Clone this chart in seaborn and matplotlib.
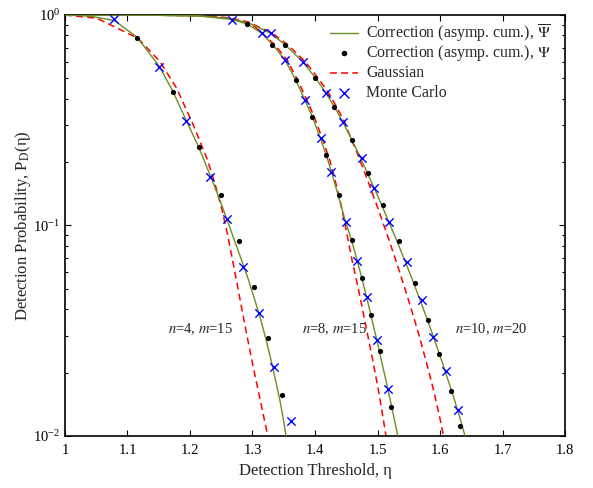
import matplotlib
matplotlib.use("Agg")
import matplotlib.pyplot as plt
import seaborn as sns
import pandas as pd
from matplotlib.lines import Line2D
from matplotlib.ticker import FixedLocator, FixedFormatter, LogLocator, NullFormatter

# ---------------- data ----------------
# n=4, m=15
g1_corr_x = [1.0, 1.024, 1.0453, 1.0789, 1.1157, 1.1504, 1.1728, 1.1936, 1.2139, 1.2224, 1.2352,
             1.2477, 1.2595, 1.2709, 1.2824, 1.2936, 1.3037, 1.3133, 1.3219, 1.3296, 1.3368,
             1.3437, 1.3496, 1.3536]
g1_corr_p = [1.0, 0.9945, 0.981, 0.9417, 0.782, 0.5725, 0.433, 0.317, 0.236, 0.2047, 0.1645,
             0.1322, 0.1062, 0.0853, 0.0686, 0.0551, 0.04427, 0.03557, 0.02858, 0.02296, 0.01845,
             0.01483, 0.01191, 0.01]
g1_psi_x = [1.1157, 1.1728, 1.2139, 1.2493, 1.2781, 1.3032, 1.3256, 1.3474]
g1_psi_p = [0.777, 0.4295, 0.236, 0.1396, 0.0847, 0.0510, 0.0291, 0.01566]
g1_gauss_x = [1.0, 1.0512, 1.1168, 1.152, 1.1787, 1.2053, 1.228, 1.2405, 1.2512, 1.2603, 1.268,
              1.2757, 1.2832, 1.2909, 1.2989, 1.3072, 1.3157, 1.3245]
g1_gauss_p = [1.0, 0.9645, 0.775, 0.600, 0.4485, 0.300, 0.2047, 0.1557, 0.1185, 0.0901, 0.0686,
              0.0522, 0.0397, 0.0302, 0.02296, 0.01747, 0.01329, 0.01]
g1_mc_x = [1.0784, 1.1504, 1.1936, 1.2322, 1.2594, 1.2845, 1.3106, 1.3346, 1.3608]
g1_mc_p = [0.957, 0.568, 0.3147, 0.1706, 0.107, 0.0635, 0.0385, 0.0212, 0.01178]

# n=8, m=15
g2_corr_x = [1.0, 1.136, 1.216, 1.2667, 1.2917, 1.3147, 1.3328, 1.352, 1.3691, 1.3835, 1.3957,
             1.4096, 1.4205, 1.4301, 1.4392, 1.448, 1.4584, 1.4672, 1.4757, 1.4837, 1.4912,
             1.4989, 1.5061, 1.5133, 1.5203, 1.5272, 1.5325]
g2_corr_p = [1.0, 0.998, 0.989, 0.952, 0.906, 0.8186, 0.7204, 0.6114, 0.491, 0.396, 0.3288,
             0.2548, 0.2047, 0.1645, 0.1322, 0.1062, 0.0853, 0.0686, 0.0551, 0.04427, 0.03557,
             0.02858, 0.02296, 0.01845, 0.01483, 0.01191, 0.01]
g2_psi_x = [1.2917, 1.3317, 1.3691, 1.3957, 1.4176, 1.4379, 1.4592, 1.4747, 1.4891, 1.5035, 1.5221]
g2_psi_p = [0.906, 0.7204, 0.491, 0.3288, 0.2169, 0.140, 0.0853, 0.0563, 0.03744, 0.02542, 0.01378]
g2_gauss_x = [1.0, 1.136, 1.216, 1.264, 1.296, 1.336, 1.3552, 1.3723, 1.3869, 1.3989, 1.4125,
              1.4235, 1.432, 1.44, 1.4488, 1.4592, 1.4709, 1.4816, 1.4923, 1.5024, 1.5136]
g2_gauss_p = [1.0, 0.9989, 0.9924, 0.9677, 0.921, 0.7204, 0.6114, 0.491, 0.3947, 0.3276, 0.2548,
              0.2047, 0.1645, 0.1322, 0.0987, 0.0686, 0.0476, 0.03305, 0.02296, 0.01595, 0.01]
g2_mc_x = [1.2667, 1.3147, 1.352, 1.3835, 1.4091, 1.4256, 1.4501, 1.4677, 1.4837, 1.4987, 1.5168]
g2_mc_p = [0.947, 0.8186, 0.6114, 0.396, 0.2596, 0.1796, 0.1042, 0.0678, 0.0456, 0.02858, 0.01677]

# n=10, m=20
g3_corr_x = [1.0, 1.136, 1.216, 1.264, 1.296, 1.3291, 1.3525, 1.3808, 1.4008, 1.4171, 1.4309,
             1.4443, 1.4592, 1.4744, 1.4888, 1.5032, 1.5168, 1.5304, 1.5432, 1.556, 1.568, 1.58,
             1.5912, 1.6024, 1.6128, 1.6232, 1.6328, 1.64]
g3_corr_p = [1.0, 0.998, 0.989, 0.9624, 0.911, 0.8186, 0.7204, 0.598, 0.502, 0.4276, 0.3667,
             0.3112, 0.2548, 0.2047, 0.1645, 0.1322, 0.1062, 0.0853, 0.0686, 0.0551, 0.04427,
             0.03557, 0.02858, 0.02296, 0.01845, 0.01483, 0.01191, 0.01]
g3_psi_x = [1.3525, 1.4005, 1.4309, 1.4597, 1.484, 1.5093, 1.5339, 1.5595, 1.581, 1.5987, 1.6174, 1.6323]
g3_psi_p = [0.7204, 0.5003, 0.3667, 0.2556, 0.177, 0.1251, 0.0841, 0.0535, 0.03557, 0.0246, 0.01636, 0.01119]
g3_gauss_x = [1.0, 1.136, 1.216, 1.264, 1.296, 1.332, 1.3568, 1.3848, 1.4048, 1.4213, 1.4344,
              1.4472, 1.4584, 1.4656, 1.484, 1.5016, 1.5184, 1.5344, 1.5496, 1.564, 1.5773,
              1.5896, 1.6005, 1.6056]
g3_gauss_p = [1.0, 0.9989, 0.9924, 0.9677, 0.918, 0.8186, 0.7204, 0.598, 0.502, 0.4276, 0.3667,
              0.3112, 0.2548, 0.2284, 0.1645, 0.1185, 0.0853, 0.0614, 0.04427, 0.03189, 0.02296,
              0.01654, 0.01191, 0.01]
g3_mc_x = [1.3291, 1.3813, 1.4171, 1.4443, 1.4752, 1.4944, 1.5184, 1.5472, 1.5707, 1.5893, 1.6094, 1.6286]
g3_mc_p = [0.8186, 0.596, 0.4276, 0.3112, 0.210, 0.1502, 0.1042, 0.0669, 0.04427, 0.02944, 0.02043, 0.01333]

case_labels = ["$n$=4, $m$=15", "$n$=8, $m$=15", "$n$=10, $m$=20"]
case_label_x = [1.1648, 1.379, 1.624]
case_label_y = [0.0322, 0.0322, 0.0322]

x_ticks = [1.0, 1.1, 1.2, 1.3, 1.4, 1.5, 1.6, 1.7, 1.8]
x_tick_labels = ["1", "1.1", "1.2", "1.3", "1.4", "1.5", "1.6", "1.7", "1.8"]

legend_labels = [r"Correction (asymp. cum.), $\overline{\Psi}$",
                 r"Correction (asymp. cum.), $\Psi$",
                 "Gaussian", "Monte Carlo"]

# ---------------- style ----------------
sns.set_style("ticks")
plt.rcParams['font.family'] = ['Liberation Serif', 'DejaVu Serif']
plt.rcParams['mathtext.fontset'] = 'stix'
plt.rcParams['xtick.direction'] = 'in'
plt.rcParams['ytick.direction'] = 'in'

GREEN = "#6b8e23"
RED = "#ff0000"
BLUE = "#0000ff"
DASH = (0, (4.5, 2.8))

fig = plt.figure(figsize=(5.93, 4.88), dpi=100)
ax = fig.add_axes([0.1096, 0.1066, 0.8432, 0.8627])

groups = [
    (g1_corr_x, g1_corr_p, g1_psi_x, g1_psi_p, g1_gauss_x, g1_gauss_p, g1_mc_x, g1_mc_p),
    (g2_corr_x, g2_corr_p, g2_psi_x, g2_psi_p, g2_gauss_x, g2_gauss_p, g2_mc_x, g2_mc_p),
    (g3_corr_x, g3_corr_p, g3_psi_x, g3_psi_p, g3_gauss_x, g3_gauss_p, g3_mc_x, g3_mc_p),
]

for cx, cp, px, pp, gx, gp, mx, mp in groups:
    sns.lineplot(x=gx, y=gp, ax=ax, color=RED, lw=1.1, sort=False, estimator=None,
                 dashes=False, linestyle=DASH, zorder=2)
    sns.lineplot(x=cx, y=cp, ax=ax, color=GREEN, lw=1.0, sort=False, estimator=None, zorder=3)
    sns.scatterplot(x=px, y=pp, ax=ax, color="black", s=14, marker="o", linewidth=0, zorder=4)
    sns.scatterplot(x=mx, y=mp, ax=ax, color=BLUE, s=36, marker="x", linewidth=1.0, zorder=5)

ax.set_yscale("log")
ax.set_xlim(1.0, 1.8)
ax.set_ylim(0.01, 1.0)

ax.xaxis.set_major_locator(FixedLocator(x_ticks))
ax.xaxis.set_major_formatter(FixedFormatter(x_tick_labels))
ax.yaxis.set_major_locator(LogLocator(base=10, numticks=5))
ax.yaxis.set_minor_locator(LogLocator(base=10, subs=range(2, 10), numticks=20))
ax.yaxis.set_minor_formatter(NullFormatter())

ax.tick_params(which="both", direction="in", top=True, right=True, labelsize=10.5,
               colors="black", width=0.8)
ax.tick_params(which="major", length=4.5)
ax.tick_params(which="minor", length=2.5)
ax.tick_params(axis="x", pad=6)
for sp in ax.spines.values():
    sp.set_visible(True)
    sp.set_linewidth(1.2)
    sp.set_color("black")

ax.set_xlabel("Detection Threshold, η", fontsize=12, labelpad=4)
ax.set_ylabel(r"Detection Probability, P$_{\mathrm{D}}$(η)", fontsize=12, labelpad=0)

for lbl, lx, ly in zip(case_labels, case_label_x, case_label_y):
    ax.text(lx, ly, lbl, fontsize=10.5, ha="left", va="center")

# ---------------- legend (evenly spaced rows, drawn in axes coordinates) ----------------
leg_handles = [
    dict(color=GREEN, lw=1.0, linestyle="-"),
    dict(color="black", marker="o", markersize=4.0, linestyle="none", markeredgewidth=0),
    dict(color=RED, lw=1.1, linestyle=DASH),
    dict(color=BLUE, marker="x", markersize=6.5, markeredgewidth=1.0, linestyle="none"),
]
row_center = [0.957, 0.9097, 0.8622, 0.8147]
for style, label, yc in zip(leg_handles, legend_labels, row_center):
    if style.get("marker"):
        ax.add_line(Line2D([0.558], [yc], transform=ax.transAxes, clip_on=False, **style))
    else:
        ax.add_line(Line2D([0.530, 0.586], [yc, yc], transform=ax.transAxes, clip_on=False, **style))
    ax.text(0.602, yc - 0.0105, label, transform=ax.transAxes, fontsize=11.4,
            ha="left", va="baseline")

fig.savefig("out.png", dpi=100)
